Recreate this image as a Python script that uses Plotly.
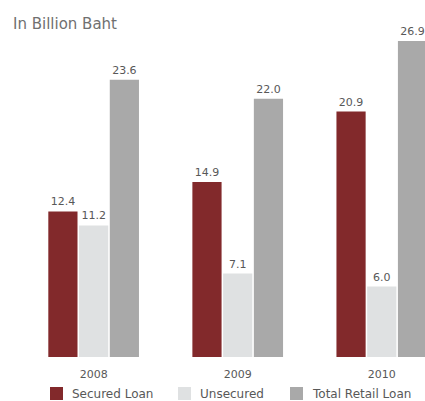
import plotly.graph_objects as go

years = ["2008", "2009", "2010"]
secured = [12.4, 14.9, 20.9]
unsecured = [11.2, 7.1, 6.0]
total_retail = [23.6, 22.0, 26.9]

series = [
    ("Secured Loan", secured, "#82292b"),
    ("Unsecured", unsecured, "#dfe1e2"),
    ("Total Retail Loan", total_retail, "#a9a9a9"),
]

FONT = "DejaVu Sans"
TXT = "#585858"
W, H, B = 425, 401, 44
PLOT_H = H - B

fig = go.Figure()
for name, vals, color in series:
    fig.add_trace(go.Bar(
        x=[0, 1, 2], y=vals, name=name,
        marker=dict(color=color, line=dict(width=0)),
        text=[f"{v:.1f}" for v in vals],
        textposition="outside",
        textfont=dict(size=11, color=TXT, family=FONT),
        cliponaxis=False,
        showlegend=False,
    ))


def px_x(x):
    return x / W


def px_y(y):
    return (PLOT_H - y) / PLOT_H


# Key below the axis: colour swatch followed by series name
key_left = [50, 178, 290]
shapes, annotations = [], []
for (name, _, color), left in zip(series, key_left):
    shapes.append(dict(
        type="rect", xref="paper", yref="paper",
        x0=px_x(left), x1=px_x(left + 13), y0=px_y(400), y1=px_y(387),
        fillcolor=color, line=dict(width=0), layer="above",
    ))
    annotations.append(dict(
        text=name, xref="paper", yref="paper",
        x=px_x(left + 20), y=px_y(393.5), xanchor="left", yanchor="middle",
        showarrow=False, font=dict(size=12, color=TXT, family=FONT),
    ))

annotations.append(dict(
    text="In Billion Baht", xref="paper", yref="paper",
    x=px_x(11), y=px_y(24), xanchor="left", yanchor="middle",
    showarrow=False, font=dict(size=15, color="#707070", family=FONT),
))

fig.update_layout(
    width=W, height=H,
    margin=dict(l=0, r=0, t=0, b=B),
    paper_bgcolor="white", plot_bgcolor="white",
    barmode="group", bargap=0.36, bargroupgap=0.05,
    showlegend=False,
    xaxis=dict(
        range=[-0.65, 2.30], tickmode="array", tickvals=[0, 1, 2], ticktext=years,
        showgrid=False, zeroline=False, showline=False, ticks="",
        ticklabelstandoff=9,
        tickfont=dict(size=11, color=TXT, family=FONT),
    ),
    yaxis=dict(range=[0, 30.4], visible=False, showgrid=False),
    shapes=shapes,
    annotations=annotations,
)

fig.write_html("out.html")
